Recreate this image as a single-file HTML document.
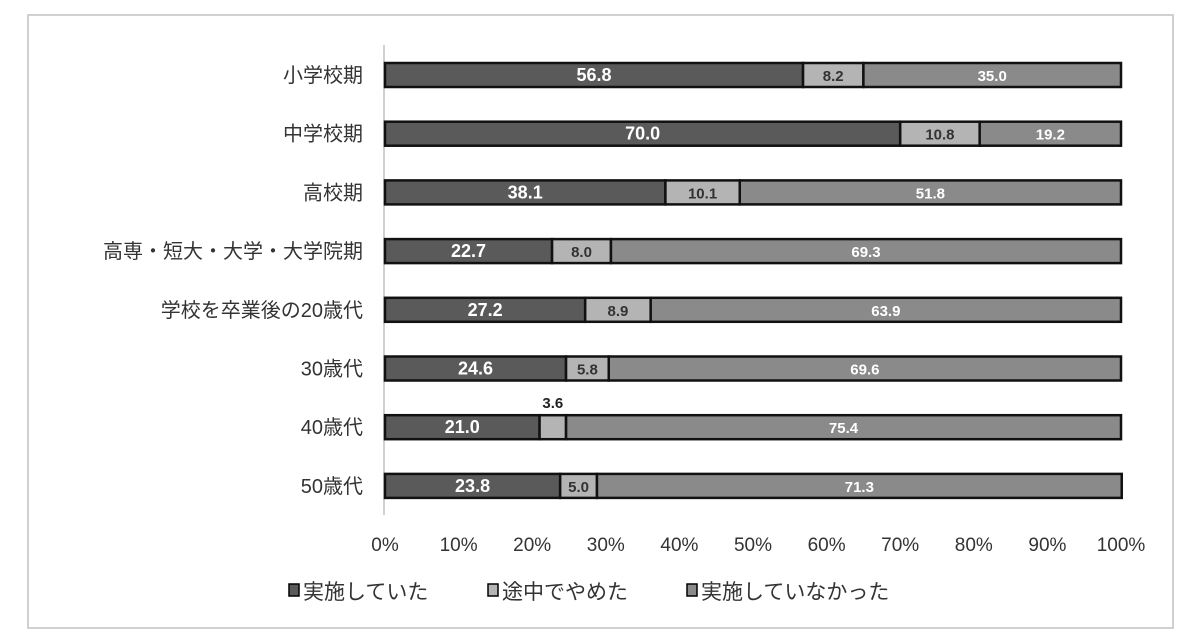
<!DOCTYPE html>
<html><head><meta charset="utf-8"><style>
body{margin:0;background:#fff;}
svg{display:block;font-family:"Liberation Sans","Noto Sans CJK JP",sans-serif;}
</style></head><body>
<svg width="1200" height="639" viewBox="0 0 1200 639">
<rect x="28" y="15" width="1145" height="613" fill="#fff" stroke="#d0d0d0" stroke-width="2"/>
<line x1="384" y1="45" x2="384" y2="515" stroke="#d0d0d0" stroke-width="2"/>
<g id="bars"></g>
<g id="ylabels"></g>
<g id="xticks"></g>
<g font-size="21" fill="#333">
<rect x="289" y="584" width="10" height="12" fill="#5a5a5a" stroke="#000" stroke-width="1.5"/>
<text x="303" y="599">実施していた</text>
<rect x="488" y="584" width="10" height="12" fill="#b4b4b4" stroke="#000" stroke-width="1.5"/>
<text x="502" y="599">途中でやめた</text>
<rect x="687" y="584" width="10" height="12" fill="#8a8a8a" stroke="#000" stroke-width="1.5"/>
<text x="701" y="599">実施していなかった</text>
</g>
</svg>
<script>
const categories=["小学校期","中学校期","高校期","高専・短大・大学・大学院期","学校を卒業後の20歳代","30歳代","40歳代","50歳代"];
const implemented=[56.8,70.0,38.1,22.7,27.2,24.6,21.0,23.8];
const quit=[8.2,10.8,10.1,8.0,8.9,5.8,3.6,5.0];
const notImplemented=[35.0,19.2,51.8,69.3,63.9,69.6,75.4,71.3];
const tickLabels=["0%","10%","20%","30%","40%","50%","60%","70%","80%","90%","100%"];
const NS="http://www.w3.org/2000/svg";
const x0=385,x1=1121;
function xs(v){return x0+(x1-x0)*v/100;}
function ys(i){return 75+i*58.7;}
const bh=24;
const series=[{vals:implemented,fill:"#5a5a5a",tc:"#fff",name:"implemented"},{vals:quit,fill:"#b4b4b4",tc:"#333",name:"quit"},{vals:notImplemented,fill:"#8a8a8a",tc:"#fff",name:"not-implemented"}];
const gb=document.getElementById("bars");
categories.forEach((c,i)=>{
  let acc=0;
  series.forEach(s=>{
    const v=s.vals[i];
    const r=document.createElementNS(NS,"rect");
    r.setAttribute("x",xs(acc));r.setAttribute("y",ys(i)-bh/2);
    r.setAttribute("width",xs(acc+v)-xs(acc));r.setAttribute("height",bh);
    r.setAttribute("fill",s.fill);r.setAttribute("stroke","#111");r.setAttribute("stroke-width","2.5");
    
    
    gb.appendChild(r);
    const t=document.createElementNS(NS,"text");
    const small=(xs(acc+v)-xs(acc))<30;
    t.setAttribute("x",(xs(acc)+xs(acc+v))/2);
    t.setAttribute("y",small?ys(i)-19:ys(i)+6);
    t.setAttribute("text-anchor","middle");
    t.setAttribute("font-size",s.name==="implemented"?"18":"15");
    t.setAttribute("font-weight","bold");
    t.setAttribute("fill",small?"#222":s.tc);
    t.textContent=v.toFixed(1);
    
    
    gb.appendChild(t);
    acc+=v;
  });
  const l=document.createElementNS(NS,"text");
  l.setAttribute("x",363);l.setAttribute("y",ys(i)+7);
  l.setAttribute("text-anchor","end");l.setAttribute("font-size","20");l.setAttribute("fill","#333");
  l.textContent=c;
  
  
  document.getElementById("ylabels").appendChild(l);
});
tickLabels.forEach((tl,k)=>{
  const t=document.createElementNS(NS,"text");
  t.setAttribute("x",xs(k*10));t.setAttribute("y",551);
  t.setAttribute("text-anchor","middle");t.setAttribute("font-size","19");t.setAttribute("fill","#333");
  t.textContent=tl;
  
  
  document.getElementById("xticks").appendChild(t);
});
</script>
</body></html>
